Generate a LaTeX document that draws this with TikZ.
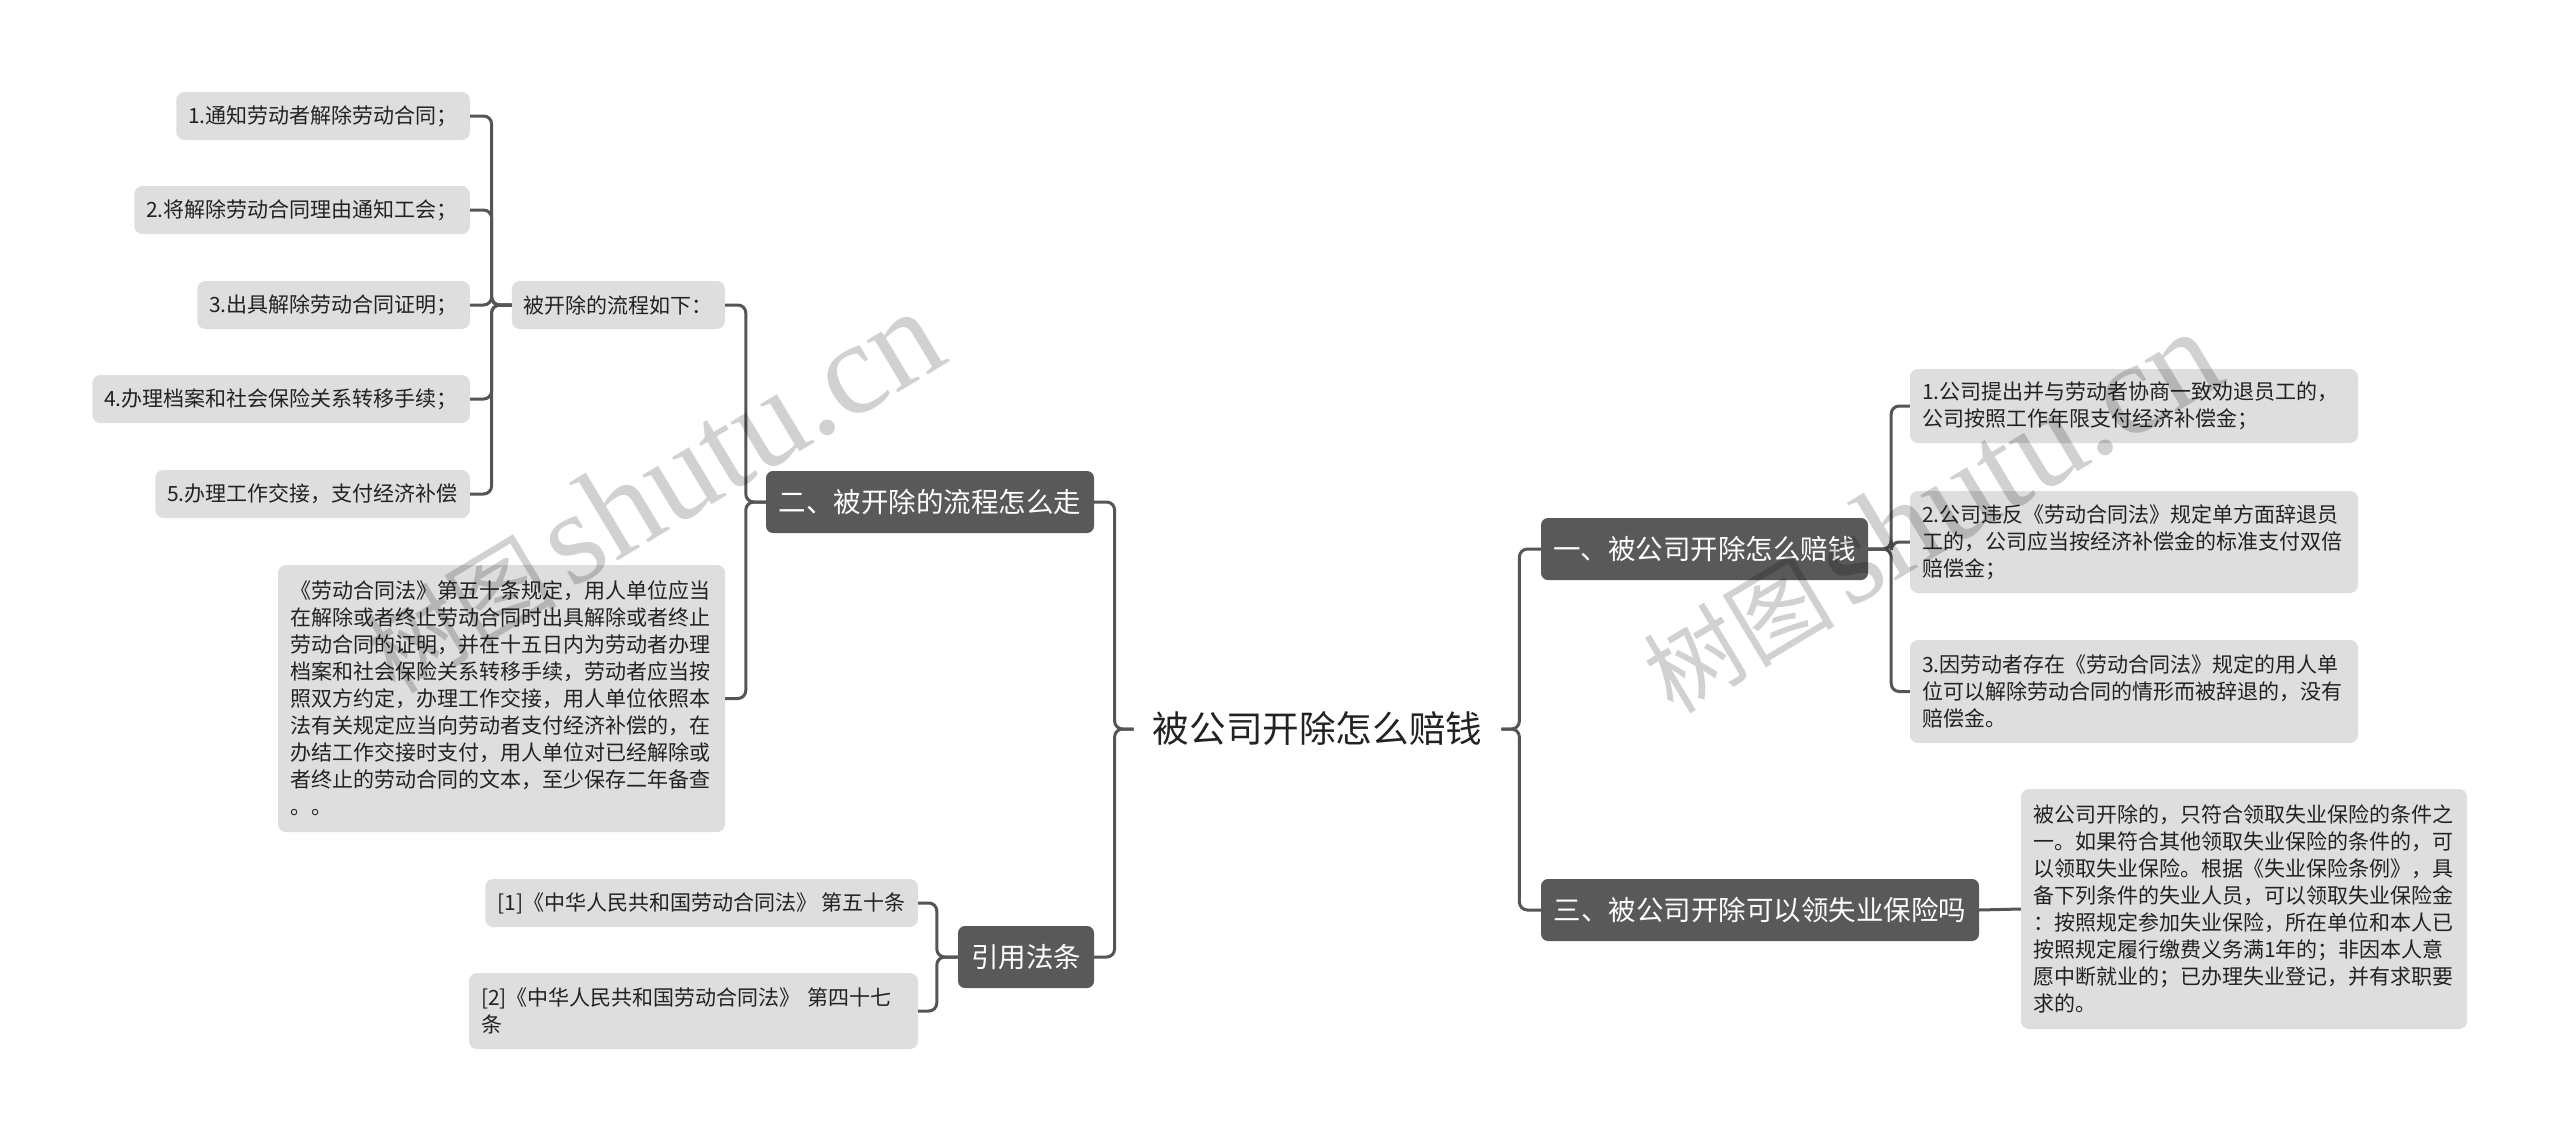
\documentclass[tikz,border=0pt]{standalone}
\usepackage{fontspec}
\setmainfont{Noto Sans CJK SC}
\newfontfamily\wmfont{Liberation Serif}
\newfontfamily\wmcjk{Noto Sans CJK SC}
\definecolor{darkfill}{HTML}{595959}
\definecolor{leaffill}{HTML}{DEDEDE}
\definecolor{linec}{HTML}{555555}
\definecolor{textc}{HTML}{222222}
\newcommand{\wmtext}{{\fontsize{96}{98}\wmcjk 树图}\hspace{14pt}{\fontsize{132}{140}\wmfont shutu.cn}}
\tikzset{
  leaf/.style={fill=leaffill, rounded corners=8pt, inner xsep=12pt, inner ysep=8pt,
    font=\fontsize{21}{27}\selectfont, text=textc, align=left},
  darknode/.style={fill=darkfill, rounded corners=7pt, inner xsep=12pt, inner ysep=6pt,
    font=\fontsize{27.5}{33}\selectfont, text=white, minimum height=62pt},
  conn/.style={draw=linec, line width=3pt, rounded corners=8pt},
  wm/.style={rotate=31, opacity=0.18, text=black}
}
\begin{document}
\begin{tikzpicture}[x=1pt, y=-1pt]
\useasboundingbox (0,0) rectangle (2560,1141);
\fill[white] (0,0) rectangle (2560,1141);

% centre
\node[font=\fontsize{36.6}{44}\selectfont, text=textc, inner xsep=19pt] (c) at (1317.5,729) {被公司开除怎么赔钱};

% main branches
\node[darknode, minimum width=328pt] (n2) at (930,502) {二、被开除的流程怎么走};
\node[darknode, minimum width=136pt] (n4) at (1026,957) {引用法条};
\node[darknode, minimum width=327pt] (n1) at (1704.5,549) {一、被公司开除怎么赔钱};
\node[darknode, minimum width=438pt] (n3) at (1760,910) {三、被公司开除可以领失业保险吗};

% left side leaves
\node[leaf, anchor=east, minimum height=48pt] (bc) at (725,305) {被开除的流程如下：};
\node[leaf, anchor=east, minimum height=48pt] (i1) at (470,116) {1.通知劳动者解除劳动合同；};
\node[leaf, anchor=east, minimum height=48pt] (i2) at (470,210) {2.将解除劳动合同理由通知工会；};
\node[leaf, anchor=east, minimum height=48pt] (i3) at (470,305) {3.出具解除劳动合同证明；};
\node[leaf, anchor=east, minimum height=48pt] (i4) at (470,399) {4.办理档案和社会保险关系转移手续；};
\node[leaf, anchor=east, minimum height=48pt] (i5) at (470,494) {5.办理工作交接，支付经济补偿};
\node[leaf, text width=423pt, minimum height=267pt] (lt) at (501.5,698.5) {《劳动合同法》第五十条规定，用人单位应当\\在解除或者终止劳动合同时出具解除或者终止\\劳动合同的证明，并在十五日内为劳动者办理\\档案和社会保险关系转移手续，劳动者应当按\\照双方约定，办理工作交接，用人单位依照本\\法有关规定应当向劳动者支付经济补偿的，在\\办结工作交接时支付，用人单位对已经解除或\\者终止的劳动合同的文本，至少保存二年备查\\。。};
\node[leaf, anchor=east, minimum height=48pt] (q1) at (918,903) {[1]《中华人民共和国劳动合同法》 第五十条};
\node[leaf, text width=425pt, minimum height=76pt] (q2) at (693.5,1011) {[2]《中华人民共和国劳动合同法》 第四十七\\条};

% right side leaves
\node[leaf, text width=424pt, minimum height=74pt] (r1) at (2134,406) {1.公司提出并与劳动者协商一致劝退员工的，\\公司按照工作年限支付经济补偿金；};
\node[leaf, text width=424pt, minimum height=102pt] (r2) at (2134,542) {2.公司违反《劳动合同法》规定单方面辞退员\\工的，公司应当按经济补偿金的标准支付双倍\\赔偿金；};
\node[leaf, text width=424pt, minimum height=103pt] (r3) at (2134,691.5) {3.因劳动者存在《劳动合同法》规定的用人单\\位可以解除劳动合同的情形而被辞退的，没有\\赔偿金。};
\node[leaf, text width=422pt, minimum height=240pt] (s1) at (2244,909) {被公司开除的，只符合领取失业保险的条件之\\一。如果符合其他领取失业保险的条件的，可\\以领取失业保险。根据《失业保险条例》，具\\备下列条件的失业人员，可以领取失业保险金\\：按照规定参加失业保险，所在单位和本人已\\按照规定履行缴费义务满1年的；非因本人意\\愿中断就业的；已办理失业登记，并有求职要\\求的。};

% connectors
\draw[conn] (c.west) -- ++(-19,0) |- (n2.east);
\draw[conn] (c.west) -- ++(-19,0) |- (n4.east);
\draw[conn] (c.east) -- ++(18,0) |- (n1.west);
\draw[conn] (c.east) -- ++(18,0) |- (n3.west);
\draw[conn] (n2.west) -- ++(-20,0) |- (bc.east);
\draw[conn] (n2.west) -- ++(-20,0) |- (lt.east);
\foreach \k in {i1,i2,i3,i4,i5}{
  \draw[conn] (bc.west) -- ++(-20,0) |- (\k.east);
}
\draw[conn] (n4.west) -- ++(-21,0) |- (q1.east);
\draw[conn] (n4.west) -- ++(-21,0) |- (q2.east);
\foreach \k in {r1,r2,r3}{
  \draw[conn] (n1.east) -- ++(23,0) |- (\k.west);
}
\draw[conn] (n3.east) -- (s1.west);

% watermarks
\node[wm] (wm1) at (652,492) {\wmtext};
\node[wm] (wm2) at (1930,512) {\wmtext};
\end{tikzpicture}
\end{document}
